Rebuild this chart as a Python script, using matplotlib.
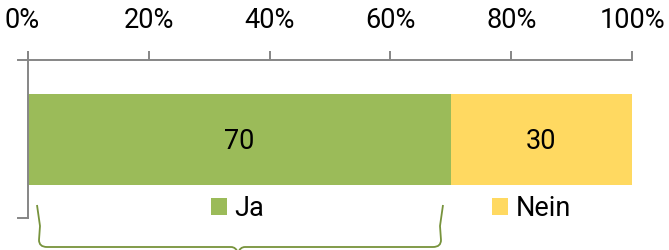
import matplotlib
matplotlib.use("Agg")
import matplotlib.pyplot as plt
from matplotlib.patches import Patch, PathPatch
from matplotlib.path import Path
from matplotlib.lines import Line2D
from matplotlib.transforms import ScaledTranslation

categories = ["Ja", "Nein"]
values = [70, 30]
colors = ["#9BBB59", "#FFD961"]
ticks = [0, 20, 40, 60, 80, 100]
tick_labels = ["0%", "20%", "40%", "60%", "80%", "100%"]

W, H = 669, 250
plt.rcParams['font.family'] = ['Roboto', 'DejaVu Sans']
FS = 19.5
fig = plt.figure(figsize=(W/100, H/100), dpi=100)

def fx(x): return x / W
def fy(y): return 1 - y / H

ax = fig.add_axes([fx(28), fy(218), fx(632) - fx(28), (218 - 60) / H])
left = 0
for cat, v, c in zip(categories, values, colors):
    ax.barh(0, v, left=left, height=0.6, color=c, label=cat)
    ax.text(left + v / 2, -0.01, str(v), ha='center', va='center', fontsize=FS, color='black')
    left += v
ax.set_xlim(0, 100)
ax.set_ylim(-0.5176, 0.524)
ax.set_yticks([])
ax.set_xticks(ticks)
ax.set_xticklabels(tick_labels, fontsize=FS)
ax.xaxis.tick_top()
ax.tick_params(axis='x', direction='out', length=6.5, width=1.4, color='#868686', pad=12.5)
for s in ['right', 'bottom']:
    ax.spines[s].set_visible(False)
for s in ['top', 'left']:
    ax.spines[s].set_color('#868686')
    ax.spines[s].set_linewidth(1.4)
ax.set_facecolor('none')

fig.canvas.draw()
lbl0 = ax.get_xticklabels()[0]
lbl0.set_transform(lbl0.get_transform() + ScaledTranslation(-6/100, 0, fig.dpi_scale_trans))

gray = '#868686'
fig.add_artist(Line2D([fx(18), fx(28)], [fy(60), fy(60)], transform=fig.transFigure, color=gray, lw=1.4))
fig.add_artist(Line2D([fx(28), fx(28)], [fy(52), fy(60)], transform=fig.transFigure, color=gray, lw=1.4))
fig.add_artist(Line2D([fx(18), fx(28)], [fy(218), fy(218)], transform=fig.transFigure, color=gray, lw=1.4))

leg_x = [211, 492]
for cat, c, lx in zip(categories, colors, leg_x):
    fig.legend([Patch(facecolor=c, edgecolor='none')], [cat], loc='upper left',
               bbox_to_anchor=(fx(lx), fy(195)), frameon=False, fontsize=FS,
               handlelength=0.6, handleheight=0.6, handletextpad=0.27,
               borderpad=0, borderaxespad=0)

# brace
pts = [(37, 205), (40, 226), (39, 240), (39, 247), (47, 247),
       (231, 247), (236, 247), (238, 253),
       (240, 247), (245, 247), (433, 247),
       (441, 247), (441, 240), (440, 226), (443, 205)]
codes = [Path.MOVETO, Path.LINETO, Path.LINETO, Path.CURVE3, Path.CURVE3,
         Path.LINETO, Path.CURVE3, Path.CURVE3,
         Path.CURVE3, Path.CURVE3, Path.LINETO,
         Path.CURVE3, Path.CURVE3, Path.LINETO, Path.LINETO]
verts = [(fx(x), fy(y)) for x, y in pts]
brace = PathPatch(Path(verts, codes), facecolor='none', edgecolor='#77933C', lw=1.3,
                  transform=fig.transFigure, clip_on=False)
fig.add_artist(brace)

fig.savefig("out.png", dpi=100)
